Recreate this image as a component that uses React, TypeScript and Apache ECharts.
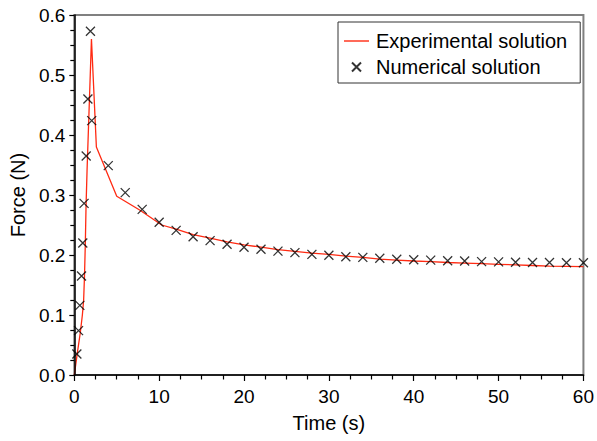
import React, { useEffect, useRef } from "react";
import * as echarts from "echarts";

// Experimental solution (red line)
const expTime = [0, 0.35, 0.7, 0.95, 1.1, 1.2, 1.3, 1.38, 1.5, 2.02, 2.6, 5.0, 7.7, 10.3, 12, 14, 16, 18, 20, 22, 24, 26, 28, 30, 32, 34, 36, 38, 40, 42, 44, 46, 48, 50, 52, 54, 56, 58, 60];
const expForce = [0, 0.036, 0.07, 0.1, 0.125, 0.165, 0.22, 0.28, 0.34, 0.56, 0.38, 0.298, 0.275, 0.25, 0.243, 0.234, 0.228, 0.222, 0.217, 0.213, 0.209, 0.206, 0.203, 0.201, 0.198, 0.196, 0.193, 0.1915, 0.19, 0.189, 0.1875, 0.1865, 0.1855, 0.1845, 0.1835, 0.1825, 0.1815, 0.181, 0.1805];

// Numerical solution (x markers)
const numTime = [0.3, 0.5, 0.65, 0.85, 1.0, 1.15, 1.4, 1.6, 1.9, 2.05, 4, 6, 8, 10, 12, 14, 16, 18, 20, 22, 24, 26, 28, 30, 32, 34, 36, 38, 40, 42, 44, 46, 48, 50, 52, 54, 56, 58, 60];
const numForce = [0.035, 0.074, 0.116, 0.165, 0.22, 0.286, 0.365, 0.46, 0.573, 0.424, 0.349, 0.304, 0.276, 0.2545, 0.241, 0.2305, 0.224, 0.218, 0.213, 0.2095, 0.2065, 0.204, 0.201, 0.1995, 0.197, 0.196, 0.1945, 0.193, 0.192, 0.1915, 0.1905, 0.19, 0.189, 0.1885, 0.188, 0.1875, 0.1875, 0.187, 0.187];

const seriesNames = ["Experimental solution", "Numerical solution"];
const axisNames = { x: "Time (s)", y: "Force (N)" };

const FONT = "'Liberation Sans', Arial, Helvetica, sans-serif";
const RED = "#ff2a12";
const CROSS = "path://M0,0L10,10M10,0L0,10";

export default function App() {
  const ref = useRef<HTMLDivElement>(null);
  useEffect(() => {
    if (!ref.current) return;
    const chart = echarts.init(ref.current, undefined, { renderer: "svg" });
    const tickLabel = { color: "#000", fontSize: 19, fontFamily: FONT };
    const nameStyle = { color: "#000", fontSize: 20, fontFamily: FONT };
    chart.setOption({
      animation: false,
      grid: {
        left: 74,
        right: 12,
        top: 15,
        bottom: 66,
        show: true,
        borderColor: "#808080",
        borderWidth: 2,
        backgroundColor: "transparent",
        z: 0,
      },
      legend: {
        left: 338,
        top: 22,
        orient: "vertical",
        itemWidth: 25,
        itemHeight: 9,
        itemGap: 6,
        padding: [9, 13, 6, 6],
        borderColor: "#333",
        borderWidth: 1,
        backgroundColor: "#fff",
        textStyle: { color: "#000", fontSize: 20, fontFamily: FONT, padding: [0, 0, 0, 2] },
        data: [
          { name: seriesNames[0], icon: "path://M0,0L25,0L25,1.4L0,1.4Z" },
          { name: seriesNames[1] },
        ],
      },
      xAxis: {
        type: "value",
        z: 4,
        min: 0,
        max: 60,
        interval: 10,
        name: axisNames.x,
        nameLocation: "middle",
        nameGap: 38,
        nameTextStyle: nameStyle,
        axisLine: { show: true, onZero: false, lineStyle: { color: "#000", width: 1.5 } },
        axisTick: { show: true, inside: false, length: 6, lineStyle: { color: "#000", width: 1.2 } },
        minorTick: { show: true, splitNumber: 4, length: 4.5, lineStyle: { color: "#000", width: 1.2 } },
        axisLabel: { ...tickLabel, margin: 12 },
        splitLine: { show: false },
      },
      yAxis: {
        type: "value",
        z: 4,
        min: 0,
        max: 0.6,
        interval: 0.1,
        name: axisNames.y,
        nameLocation: "middle",
        nameGap: 42,
        nameTextStyle: nameStyle,
        axisLine: { show: true, onZero: false, lineStyle: { color: "#000", width: 1.5 } },
        axisTick: { show: true, inside: false, length: 5, lineStyle: { color: "#000", width: 1.2 } },
        minorTick: { show: true, splitNumber: 4, length: 4, lineStyle: { color: "#000", width: 1.2 } },
        axisLabel: { ...tickLabel, margin: 9, formatter: (v: number) => v.toFixed(1) },
        splitLine: { show: false },
      },
      series: [
        {
          name: seriesNames[0],
          type: "line",
          symbol: "none",
          color: RED,
          itemStyle: { color: RED },
          lineStyle: { color: RED, width: 1.3 },
          data: expTime.map((t, i) => [t, expForce[i]]),
          z: 2,
        },
        {
          name: seriesNames[1],
          type: "scatter",
          symbol: CROSS,
          symbolSize: 9,
          itemStyle: { color: "transparent", borderColor: "#000", borderWidth: 1.3 },
          data: numTime.map((t, i) => [t, numForce[i]]),
          z: 3,
        },
      ],
    });
    return () => chart.dispose();
  }, []);
  return <div ref={ref} style={{ width: 597, height: 441, position: "absolute", left: 0, top: 0 }} />;
}
